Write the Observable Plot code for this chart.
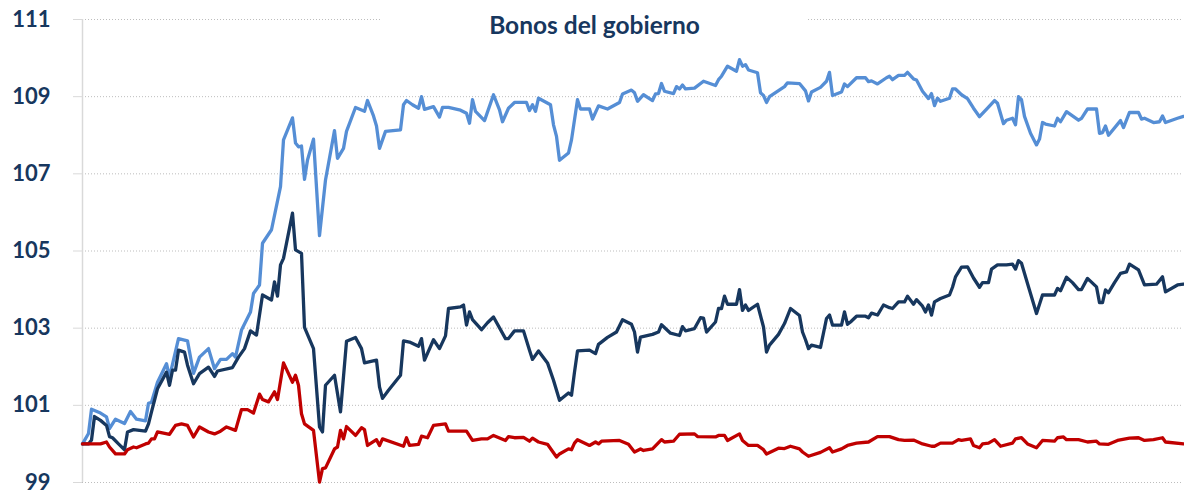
<!DOCTYPE html>
<html><head><meta charset="utf-8">
<script src="https://cdn.jsdelivr.net/npm/d3@7"></script>
<script src="https://cdn.jsdelivr.net/npm/@observablehq/plot@0.6"></script>
<style>
html,body{margin:0;padding:0;background:#fff;}
#wrap{position:relative;width:1184px;height:491px;overflow:hidden;}
#wrap svg{display:block;}
#titulo{position:absolute;left:382px;top:0;width:425px;height:45px;background:#fff;box-sizing:border-box;padding-top:10px;line-height:30px;text-align:center;font-family:Lato,sans-serif;font-weight:700;font-size:24.5px;color:#17375E;}
</style></head><body>
<div id="wrap"><div id="titulo"></div></div>
<script>
const titulo = "Bonos del gobierno";
const yTicks = [99, 101, 103, 105, 107, 109, 111];
const totalDias = 367;

// [día, valor]
const azul = [[0,100.0],[2,100.27],[3,100.9],[6,100.8],[8,100.7],[9,100.4],[11,100.64],[14,100.53],[16,100.84],[18,100.64],[21,100.6],[22,101.05],[23,101.08],[25,101.6],[28,102.08],[29,101.73],[32,102.73],[35,102.67],[37,101.83],[39,102.25],[42,102.47],[44,101.95],[46,102.19],[48,102.19],[50,102.34],[51,102.25],[53,102.95],[56,103.42],[57,103.9],[59,104.12],[60,105.2],[63,105.55],[66,106.67],[67,107.88],[70,108.45],[71,107.8],[72,107.7],[73,107.72],[74,106.86],[75,107.36],[77,107.9],[79,105.4],[81,106.84],[84,108.12],[85,107.4],[87,107.66],[88,108.1],[91,108.72],[94,108.62],[95,108.9],[97,108.5],[98,108.24],[99,107.66],[101,108.1],[106,108.14],[107,108.79],[108,108.9],[110,108.79],[112,108.7],[113,109.0],[114,108.67],[117,108.74],[119,108.47],[120,108.72],[122,108.72],[126,108.65],[128,108.57],[129,108.31],[130,108.92],[131,108.62],[134,108.38],[137,109.05],[139,108.66],[140,108.35],[142,108.7],[144,108.85],[148,108.85],[149,108.64],[150,108.79],[151,108.62],[152,108.96],[156,108.79],[157,108.27],[158,107.97],[159,107.35],[162,107.54],[163,107.88],[165,108.92],[166,108.68],[169,108.68],[170,108.42],[172,108.76],[175,108.68],[179,108.85],[180,109.07],[183,109.17],[184,109.1],[185,108.88],[187,109.05],[190,108.9],[191,109.07],[192,109.08],[193,109.34],[194,109.14],[197,109.08],[198,109.26],[199,109.2],[200,109.3],[201,109.2],[204,109.22],[207,109.4],[211,109.29],[212,109.44],[213,109.53],[215,109.79],[218,109.66],[219,109.96],[220,109.79],[221,109.83],[222,109.69],[225,109.62],[226,109.1],[227,109.03],[228,108.85],[229,109.0],[234,109.26],[235,109.36],[239,109.34],[241,109.15],[242,108.89],[243,109.12],[246,109.24],[248,109.4],[249,109.63],[250,109.03],[253,109.12],[254,109.33],[255,109.26],[258,109.49],[261,109.49],[262,109.39],[263,109.41],[265,109.33],[268,109.49],[269,109.53],[270,109.44],[272,109.55],[274,109.55],[275,109.63],[277,109.46],[278,109.43],[280,109.14],[282,108.95],[283,109.08],[284,108.77],[285,108.96],[286,108.88],[289,108.96],[290,109.2],[291,109.2],[293,109.05],[295,108.95],[297,108.7],[299,108.48],[302,108.73],[304,108.9],[305,108.83],[307,108.3],[308,108.39],[310,108.44],[311,108.27],[312,109.0],[313,108.92],[314,108.49],[316,108.05],[318,107.75],[319,107.9],[320,108.33],[321,108.29],[324,108.24],[325,108.44],[326,108.35],[328,108.61],[332,108.39],[333,108.44],[335,108.68],[338,108.68],[339,108.05],[340,108.07],[341,108.24],[342,108.0],[346,108.38],[347,108.2],[349,108.59],[352,108.59],[353,108.42],[354,108.44],[357,108.33],[359,108.35],[360,108.5],[361,108.33],[365,108.44],[367,108.49]];

const marino = [[0,100.0],[2,100.0],[3,100.1],[4,100.71],[6,100.61],[8,100.48],[9,100.19],[10,100.16],[12,100.0],[14,99.85],[15,100.31],[17,100.37],[21,100.33],[22,100.52],[23,100.83],[25,101.43],[28,101.86],[29,101.52],[30,101.91],[31,101.91],[32,102.43],[34,102.38],[35,102.04],[37,101.56],[39,101.82],[42,101.99],[44,101.75],[45,101.89],[50,101.98],[52,102.25],[54,102.47],[56,102.93],[58,102.82],[60,103.86],[63,103.73],[64,104.2],[65,103.83],[66,104.64],[67,104.81],[70,105.98],[71,105.03],[73,104.94],[74,103.02],[77,102.47],[79,100.44],[80,100.31],[81,101.52],[84,101.78],[86,100.83],[88,102.66],[91,102.76],[93,102.47],[94,102.1],[98,102.17],[99,101.48],[100,101.18],[102,101.39],[106,101.78],[107,102.67],[109,102.64],[112,102.53],[113,102.73],[114,102.17],[117,102.7],[119,102.47],[121,102.8],[122,103.51],[126,103.55],[127,103.6],[128,103.08],[129,103.42],[130,103.22],[133,102.96],[135,103.14],[137,103.29],[141,102.73],[142,102.73],[144,102.93],[147,102.93],[149,102.43],[150,102.19],[152,102.41],[155,102.1],[157,101.65],[159,101.13],[162,101.32],[163,101.26],[164,101.86],[165,102.41],[169,102.43],[171,102.34],[172,102.58],[175,102.76],[178,102.9],[180,103.22],[183,103.1],[184,102.9],[185,102.38],[186,102.77],[190,102.84],[192,102.9],[193,103.09],[196,102.87],[199,102.81],[200,103.04],[201,102.93],[204,102.99],[206,103.27],[207,103.26],[208,102.9],[211,103.16],[212,103.51],[213,103.51],[214,103.83],[215,103.62],[218,103.62],[219,104.0],[220,103.46],[221,103.6],[222,103.46],[225,103.62],[227,103.03],[228,102.38],[229,102.56],[232,102.84],[234,103.12],[236,103.51],[239,103.33],[240,102.9],[241,102.7],[242,102.47],[243,102.56],[246,102.5],[248,103.25],[249,103.34],[250,103.08],[253,103.08],[254,103.42],[255,103.1],[256,103.16],[258,103.31],[261,103.31],[262,103.27],[263,103.39],[265,103.34],[267,103.6],[269,103.53],[270,103.51],[272,103.68],[274,103.68],[275,103.83],[277,103.62],[278,103.74],[280,103.57],[281,103.42],[282,103.6],[283,103.34],[284,103.68],[286,103.77],[289,103.86],[290,104.06],[291,104.33],[293,104.58],[295,104.59],[297,104.3],[299,104.06],[300,104.18],[302,104.18],[303,104.53],[305,104.64],[308,104.64],[310,104.66],[311,104.53],[312,104.75],[313,104.68],[315,104.16],[317,103.64],[318,103.38],[320,103.86],[324,103.86],[325,104.03],[326,103.97],[328,104.32],[330,104.18],[332,104.0],[333,104.0],[335,104.29],[338,104.07],[339,103.66],[340,103.66],[341,103.99],[342,103.92],[344,104.18],[346,104.42],[348,104.46],[349,104.66],[352,104.51],[354,104.12],[358,104.14],[360,104.33],[361,103.94],[365,104.12],[367,104.14]];

const rojo = [[0,100.0],[6,100.0],[8,100.05],[9,99.92],[11,99.74],[14,99.74],[15,99.85],[17,99.92],[18,99.9],[21,100.0],[22,100.02],[23,100.13],[24,100.13],[25,100.31],[29,100.25],[31,100.48],[33,100.52],[35,100.48],[37,100.18],[39,100.44],[42,100.31],[44,100.26],[46,100.33],[48,100.44],[51,100.35],[53,100.89],[55,100.89],[57,100.8],[59,101.29],[60,101.15],[62,101.09],[64,101.35],[65,101.15],[67,102.1],[70,101.6],[71,101.78],[72,101.52],[73,100.78],[74,100.52],[77,100.35],[79,99.01],[80,99.36],[81,99.38],[84,99.87],[85,99.92],[86,100.35],[87,100.13],[88,100.45],[91,100.22],[93,100.42],[94,100.37],[95,99.96],[98,100.11],[99,99.96],[100,100.13],[107,99.94],[108,100.16],[109,99.96],[112,99.99],[113,100.2],[115,100.16],[117,100.48],[121,100.52],[122,100.33],[128,100.33],[130,100.09],[133,100.13],[135,100.13],[137,100.22],[141,100.09],[142,100.19],[144,100.16],[147,100.17],[149,100.07],[150,100.15],[152,100.05],[155,99.99],[158,99.66],[159,99.74],[162,99.87],[163,99.85],[164,100.02],[165,100.11],[169,99.96],[171,100.05],[172,100.0],[173,100.07],[179,100.09],[182,99.99],[184,99.79],[186,99.87],[187,99.83],[190,99.87],[193,100.11],[194,100.05],[197,100.07],[199,100.25],[204,100.26],[205,100.19],[211,100.18],[212,100.22],[214,100.22],[215,100.09],[219,100.26],[220,100.09],[222,99.96],[225,99.96],[227,99.85],[228,99.74],[232,99.89],[234,99.88],[236,99.94],[239,99.87],[240,99.79],[242,99.68],[246,99.78],[249,99.9],[250,99.79],[253,99.87],[255,99.96],[258,100.02],[262,100.05],[265,100.19],[269,100.19],[272,100.11],[274,100.09],[277,100.1],[280,100.0],[283,99.94],[284,99.94],[286,100.02],[290,100.02],[292,100.11],[293,100.09],[296,100.13],[297,99.96],[299,99.9],[300,100.0],[302,100.02],[304,100.11],[306,99.94],[310,100.02],[311,100.13],[313,100.16],[315,100.0],[318,99.9],[320,100.09],[324,100.07],[325,100.16],[327,100.18],[328,100.11],[332,100.11],[335,100.05],[338,100.07],[339,100.0],[342,99.99],[345,100.09],[349,100.15],[352,100.16],[354,100.09],[357,100.11],[360,100.16],[361,100.05],[367,100.0]];

const series = [
  {nombre: "azul", puntos: azul, color: "#558ED5"},
  {nombre: "marino", puntos: marino, color: "#17375E"},
  {nombre: "rojo", puntos: rojo, color: "#C00000"}
];

const filas = series.flatMap(s => s.puntos.map(([dia, valor]) => ({dia, valor, serie: s.nombre})));

document.getElementById("titulo").textContent = titulo;

const chart = Plot.plot({
  width: 1184,
  height: 491,
  marginLeft: 82,
  marginRight: 1,
  marginTop: 19,
  marginBottom: 9,
  style: {background: "transparent", fontFamily: "Lato, sans-serif", overflow: "visible"},
  x: {domain: [0, totalDias], axis: null},
  y: {domain: [99, 111], label: null},
  marks: [
    Plot.ruleY(yTicks, {stroke: "#bdbdbd", strokeDasharray: "1,2"}),
    Plot.ruleX([0], {stroke: "#d9d9d9", strokeWidth: 1.5}),
    Plot.axisY({ticks: yTicks, tickSize: 9, tickPadding: 23, tickFormat: d => String(d), fontSize: 22, fontWeight: "bold", stroke: "#d9d9d9", fill: "#17375E", label: null}),
    ...series.map(s => Plot.line(filas.filter(r => r.serie === s.nombre), {
      x: "dia", y: "valor", stroke: s.color, strokeWidth: 3.3, strokeLinejoin: "round", strokeLinecap: "round"
    }))
  ]
});
document.getElementById("wrap").prepend(chart);
</script>
</body></html>
